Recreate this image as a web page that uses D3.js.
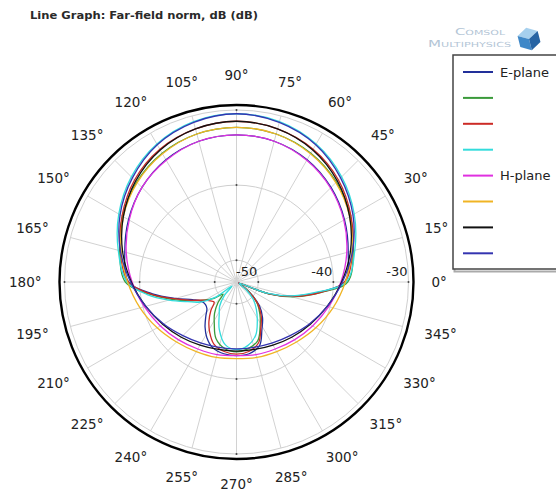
<!DOCTYPE html>
<html>
<head>
<meta charset="utf-8">
<script src="https://cdn.jsdelivr.net/npm/d3@7"></script>
<style>
  body { margin: 0; background: #fff; }
  svg { display: block; font-family: "DejaVu Sans", sans-serif; }
</style>
</head>
<body>
<svg id="chart" width="556" height="492"></svg>
<script>
// angles in degrees, counter-clockwise, 0° = east
const hAngles = [0, 15, 30, 45, 60, 75, 90, 105, 120, 135, 150, 165,
                 180, 195, 210, 225, 240, 255, 270, 285, 300, 315, 330, 345];
const eAngles = [0, 15, 30, 45, 60, 75, 90, 105, 120, 135, 150, 165, 180,
                 188, 195, 202, 209, 216, 222, 228, 235, 242, 250, 260, 270,
                 280, 290, 298, 306, 314, 321, 328, 334, 340, 346, 353];

// far-field norm (dB)
const ePlane1 = [-38.5, -37.5, -36.3, -35.1, -34.1, -33.5, -33.3, -33.5, -34.1, -35.1, -36.3, -37.5, -38.5,
                 -41.6, -44.5, -46.6, -47.6, -47.8, -47.6, -46.8, -45.6, -44.5, -43.6, -43.2, -43.1,
                 -43.2, -43.9, -45.7, -47.0, -48.5, -50.5, -52.3, -52.6, -48.4, -45.1, -41.8];
const ePlane2 = [-38.1, -36.8, -35.4, -34.1, -33.1, -32.5, -32.3, -32.5, -33.1, -34.1, -35.4, -36.8, -38.1,
                 -41.2, -44.0, -46.2, -47.9, -49.2, -50.5, -49.2, -47.8, -46.6, -44.9, -43.9, -43.6,
                 -43.9, -44.6, -46.2, -47.6, -48.9, -50.6, -52.3, -52.5, -48.2, -44.8, -41.5];
const ePlane3 = [-38.5, -36.9, -35.3, -33.7, -32.5, -31.8, -31.5, -31.8, -32.5, -33.7, -35.3, -36.9, -38.5,
                 -41.4, -44.3, -46.4, -47.9, -48.6, -48.9, -47.8, -46.5, -45.3, -44.1, -43.5, -43.3,
                 -43.5, -44.3, -46.0, -47.3, -48.8, -50.6, -52.3, -52.6, -48.3, -45.0, -41.6];
const ePlane4 = [-38.3, -36.6, -34.8, -33.1, -31.7, -30.8, -30.5, -30.8, -31.7, -33.1, -34.8, -36.6, -38.3,
                 -40.9, -43.6, -45.9, -47.4, -49.4, -52.1, -50.5, -49.0, -48.0, -46.2, -44.4, -43.9,
                 -44.3, -45.4, -47.0, -48.4, -49.7, -51.2, -52.4, -52.5, -48.6, -45.3, -42.0];
const hPlane1 = [-39.0, -37.7, -36.4, -35.2, -34.2, -33.5, -33.3, -33.5, -34.2, -35.1, -36.4, -37.7,
                 -39.0, -40.2, -41.2, -42.0, -42.6, -42.9, -43.1, -42.9, -42.6, -42.0, -41.2, -40.2];
const hPlane2 = [-38.4, -37.0, -35.5, -34.2, -33.2, -32.5, -32.3, -32.5, -33.2, -34.2, -35.5, -37.0,
                 -38.4, -39.6, -40.7, -41.6, -42.2, -42.5, -42.7, -42.5, -42.2, -41.6, -40.7, -39.6];
const hPlane3 = [-38.9, -37.2, -35.5, -33.9, -32.6, -31.8, -31.5, -31.8, -32.6, -33.9, -35.5, -37.2,
                 -38.9, -40.4, -41.6, -42.5, -43.2, -43.6, -43.7, -43.6, -43.2, -42.5, -41.6, -40.4];
const hPlane4 = [-38.8, -36.9, -35.0, -33.3, -31.8, -30.9, -30.5, -30.9, -31.8, -33.3, -35.0, -36.9,
                 -38.8, -40.4, -41.7, -42.8, -43.5, -43.9, -44.0, -43.9, -43.5, -42.8, -41.7, -40.4];

const legendNames = ["E-plane", "", "", "", "H-plane", "", "", ""];
const lineColors = ["#22309a", "#3a9a3a", "#cc2b26", "#33dcdc", "#e030e0", "#f0b424", "#111111", "#3434b0"];
const angleTicks = [0, 15, 30, 45, 60, 75, 90, 105, 120, 135, 150, 165,
                    180, 195, 210, 225, 240, 255, 270, 285, 300, 315, 330, 345];
const radialTicks = [-50, -40, -30];
const radialDomain = [-52.9, -30];

const series = [
    [eAngles, ePlane1], [eAngles, ePlane2], [eAngles, ePlane3], [eAngles, ePlane4],
    [hAngles, hPlane1], [hAngles, hPlane2], [hAngles, hPlane3], [hAngles, hPlane4]
].map(([angles, vals], i) => ({
    name: legendNames[i],
    color: lineColors[i],
    points: angles.map((a, j) => [a, vals[j]])
}));

const cx = 236.5, cy = 282, rMax = 172, rFrame = 177;
const toRad = (deg) => deg * Math.PI / 180;

const svg = d3.select("#chart");

// title
svg.append("text")
    .attr("x", 30)
    .attr("y", 19)
    .attr("font-size", 10.5)
    .attr("font-weight", "bold")
    .attr("fill", "#2a2a2a")
    .attr("textLength", 228)
    .attr("lengthAdjust", "spacingAndGlyphs")
    .text("Line Graph: Far-field norm, dB (dB)");

// COMSOL logo
const logo = svg.append("g");
logo.append("text")
    .attr("x", 455).attr("y", 35)
    .attr("font-size", 9.5)
    .attr("font-variant", "small-caps")
    .attr("fill", "#b3c5d6")
    .attr("textLength", 50)
    .attr("lengthAdjust", "spacingAndGlyphs")
    .text("Comsol");
logo.append("text")
    .attr("x", 428).attr("y", 47)
    .attr("font-size", 9.5)
    .attr("font-variant", "small-caps")
    .attr("fill", "#b3c5d6")
    .attr("textLength", 83)
    .attr("lengthAdjust", "spacingAndGlyphs")
    .text("Multiphysics");
const cube = logo.append("g").attr("transform", "translate(529,39) rotate(-14) scale(1.15)");
cube.append("polygon").attr("points", "0,-10 9,-5 0,0 -9,-5").attr("fill", "#a6d0ee");
cube.append("polygon").attr("points", "-9,-5 0,0 0,10 -9,5").attr("fill", "#3f88c8");
cube.append("polygon").attr("points", "9,-5 0,0 0,10 9,5").attr("fill", "#2764a4");

const r = d3.scaleLinear().domain(radialDomain).range([0, rMax]).clamp(true);

const plot = svg.append("g").attr("transform", `translate(${cx},${cy})`);

// grid: spokes and rings
plot.selectAll(".spoke")
    .data(angleTicks)
    .join("line")
    .attr("class", "spoke")
    .attr("x1", 0).attr("y1", 0)
    .attr("x2", d => rMax * Math.cos(toRad(d)))
    .attr("y2", d => -rMax * Math.sin(toRad(d)))
    .attr("stroke", "#d2d2d2")
    .attr("stroke-width", 1);

plot.selectAll(".ring")
    .data(radialTicks)
    .join("circle")
    .attr("class", "ring")
    .attr("r", d => r(d))
    .attr("fill", "none")
    .attr("stroke", "#cfcfcf")
    .attr("stroke-width", 1);

// small tick marks where rings cross the main axes
const tickDots = [];
radialTicks.forEach(v => [0, 90, 180, 270].forEach(a => tickDots.push([a, v])));
plot.selectAll(".tickdot")
    .data(tickDots)
    .join("circle")
    .attr("class", "tickdot")
    .attr("cx", d => r(d[1]) * Math.cos(toRad(d[0])))
    .attr("cy", d => -r(d[1]) * Math.sin(toRad(d[0])))
    .attr("r", 1)
    .attr("fill", "#444");

// radial labels
plot.selectAll(".rlabel")
    .data(radialTicks)
    .join("text")
    .attr("class", "rlabel")
    .attr("x", d => r(d) - 1)
    .attr("y", -6)
    .attr("text-anchor", "end")
    .attr("font-size", 13)
    .attr("fill", "#222")
    .text(d => d);

// frame
plot.append("circle")
    .attr("r", rFrame)
    .attr("fill", "none")
    .attr("stroke", "#000")
    .attr("stroke-width", 2.4);

// angle labels (bottom ones pulled in a little so they stay on the page)
plot.selectAll(".alabel")
    .data(angleTicks)
    .join("text")
    .attr("class", "alabel")
    .attr("font-size", 13.5)
    .attr("fill", "#222")
    .attr("text-anchor", "middle")
    .attr("dominant-baseline", "central")
    .text(d => d + "°")
    .each(function (d) {
        const w = this.getComputedTextLength();
        const c = Math.cos(toRad(d)), s = Math.sin(toRad(d));
        const ry = s > 0 ? 207.5 : 201.5;
        d3.select(this)
            .attr("x", c * (195 + w / 2))
            .attr("y", -s * ry);
    });

// curves
const radial = d3.lineRadial()
    .angle(d => toRad(90 - d[0]))
    .radius(d => r(d[1]))
    .curve(d3.curveCatmullRomClosed.alpha(0.5));

plot.selectAll(".curve")
    .data(series)
    .join("path")
    .attr("class", "curve")
    .attr("d", d => radial(d.points))
    .attr("fill", "none")
    .attr("stroke", d => d.color)
    .attr("stroke-width", 1.3);

// legend (box runs off the right edge)
const legend = svg.append("g").attr("transform", "translate(453,55)");
legend.append("rect")
    .attr("x", 1.5).attr("y", 1.5)
    .attr("width", 150).attr("height", 215)
    .attr("fill", "none")
    .attr("stroke", "#aaa")
    .attr("stroke-width", 2);
legend.append("rect")
    .attr("x", 0).attr("y", 0)
    .attr("width", 150).attr("height", 214)
    .attr("fill", "#fff")
    .attr("stroke", "#444")
    .attr("stroke-width", 1.5);

const entries = legend.selectAll(".entry")
    .data(series)
    .join("g")
    .attr("class", "entry")
    .attr("transform", (d, i) => `translate(0,${17 + i * 25.9})`);
entries.append("line")
    .attr("x1", 10).attr("x2", 40)
    .attr("stroke", d => d.color)
    .attr("stroke-width", 2);
entries.append("text")
    .attr("x", 47)
    .attr("dy", "0.35em")
    .attr("font-size", 13)
    .attr("fill", "#222")
    .text(d => d.name);
</script>
</body>
</html>
